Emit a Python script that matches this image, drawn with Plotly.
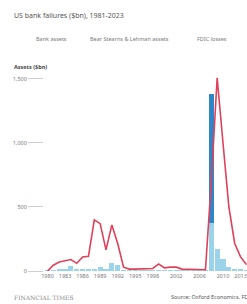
import plotly.graph_objects as go

years = list(range(1980, 2015))
bank_assets = [2, 5, 10, 8, 42, 8, 7, 8, 12, 30, 18, 62, 45, 4, 2, 1, 0.5, 0.3, 0.5, 1.5,
               0.5, 2, 2, 1, 0.3, 0.2, 0.2, 2.5, 373, 170, 92, 35, 12, 6, 3]
bear_lehman_years = [2008]
bear_lehman_assets = [1010]
fdic_losses = [0, 45, 70, 80, 90, 60, 110, 115, 400, 370, 165, 360, 215, 30, 15, 15, 15, 15, 20, 55,
               25, 30, 30, 15, 15, 15, 15, 10, 700, 1510, 1000, 500, 215, 110, 50]

y_ticks = [0, 500, 1000, 1500]
y_ticktext = ["0", "500", "1,000", "1,500"]
x_ticks = [1980, 1983, 1986, 1989, 1992, 1995, 1998, 2002, 2006, 2010, 2013]
x_ticktext = [str(v) for v in x_ticks]

W, H = 247, 304
FONT = "Noto Sans, Roboto, sans-serif"
GREY = "#7a7a7a"

fig = go.Figure()
fig.add_trace(go.Bar(x=years, y=bank_assets, name="Bank assets",
                     marker=dict(color="#9ad3ea", line=dict(width=0))))
fig.add_trace(go.Bar(x=bear_lehman_years, y=bear_lehman_assets, name="Bear Stearns & Lehman assets",
                     marker=dict(color="#2e86c8", line=dict(width=0))))
fig.add_trace(go.Scatter(x=years, y=fdic_losses, name="FDIC losses", mode="lines",
                         line=dict(color="#e0405a", width=1.6)))

y0, y1 = 271, 71.3  # pixel rows of 0 and top of range
fig.update_layout(
    width=W, height=H,
    margin=dict(l=0, r=0, t=0, b=0, autoexpand=False),
    paper_bgcolor="white", plot_bgcolor="white",
    showlegend=False, hovermode=False,
    barmode="stack", bargap=0.12,
    font=dict(family=FONT, color=GREY, size=6),
    xaxis=dict(domain=[44 / W, 1], range=[1979.4, 2014.1], tickvals=x_ticks, ticktext=x_ticktext,
               showgrid=False, zeroline=False, showline=False, ticks="", automargin=False,
               tickfont=dict(size=5.5, color=GREY), tickangle=0),
    yaxis=dict(domain=[1 - y0 / H, 1 - y1 / H], range=[0, 1560], tickvals=y_ticks, ticktext=y_ticktext,
               showgrid=False, zeroline=False, showline=False, automargin=False,
               ticks="outside", ticklen=15, tickcolor="#cfcfcf", tickwidth=1,
               tickfont=dict(size=5.5, color=GREY)),
)

ann = [
    dict(text="US bank failures ($bn), 1981-2023", x=12 / W, y=1 - 16 / H, size=7, color="#555555"),
    dict(text="Bank assets", x=34 / W, y=1 - 39 / H, size=5.5, color=GREY),
    dict(text="Bear Stearns & Lehman assets", x=88 / W, y=1 - 39 / H, size=5.5, color=GREY),
    dict(text="FDIC losses", x=195 / W, y=1 - 39 / H, size=5.5, color=GREY),
    dict(text="<b>Assets ($bn)</b>", x=12 / W, y=1 - 67 / H, size=5.5, color="#444444"),
    dict(text="FINANCIAL TIMES", x=12 / W, y=1 - 297 / H, size=6, color="#8a8a8a",
         family="DejaVu Serif, Liberation Serif, serif"),
    dict(text="Source: Oxford Economics, FDIC", x=169 / W, y=1 - 297 / H, size=5.5, color="#555555"),
]
for a in ann:
    fig.add_annotation(text=a["text"], xref="paper", yref="paper", x=a["x"], y=a["y"],
                       xanchor="left", yanchor="middle", showarrow=False,
                       font=dict(size=a["size"], color=a["color"], family=a.get("family", FONT)))

fig.write_html("out.html", config={"displayModeBar": False},
               post_script="document.body.style.margin='0';document.body.style.overflow='hidden';")
